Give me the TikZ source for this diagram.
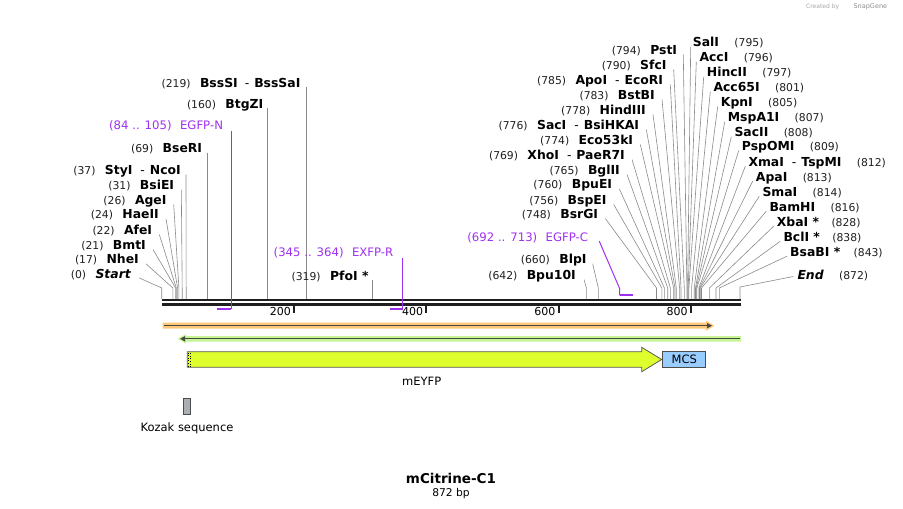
\documentclass[tikz,border=0pt]{standalone}
\usepackage{fontspec}
\setmainfont{DejaVu Sans}
\usetikzlibrary{positioning,arrows.meta}
\definecolor{primerpurple}{RGB}{158,48,240}
\definecolor{sitegray}{RGB}{138,138,138}
\definecolor{orforange}{RGB}{255,200,120}
\definecolor{orfgreen}{RGB}{198,245,148}
\definecolor{featyellow}{RGB}{222,255,45}
\definecolor{mcsblue}{RGB}{153,204,255}
\definecolor{kozakgray}{RGB}{170,174,181}
\begin{document}
\begin{tikzpicture}[x=1pt,y=-1pt,
  every node/.style={inner sep=0pt,font=\fontsize{11.5}{13}\selectfont},
  num/.style={font=\fontsize{10.8}{12}\selectfont,text=black!88},
  enz/.style={font=\fontsize{12.4}{14}\selectfont\bfseries},
  prm/.style={font=\fontsize{11.7}{13}\selectfont,text=primerpurple},
  site/.style={draw=sitegray,line width=.6pt},
  prmline/.style={draw=primerpurple,line width=1pt},
  tick/.style={line width=1.8pt,black!88}]
\useasboundingbox (0,0) rectangle (903,509);
% watermark
\node[font=\fontsize{6}{7}\selectfont,text=black!35,anchor=west] (made) at (806,7) {Created by};
\node[font=\fontsize{6.5}{7}\selectfont,text=black!45,right=14pt of made] (sg) {SnapGene};
% backbone and ruler
\coordinate (bb) at (0,299);
\draw[line width=2.3pt,black!88] (162,300.2) -- (741,300.2);
\draw[line width=3pt,black!88] (162,304.2) -- (741,304.2);
\draw[tick] (294.0,305.5) -- (294.0,312.5);
\node[font=\fontsize{11}{12}\selectfont,anchor=east] (t200) at (291.0,311.7) {200};
\draw[tick] (426.3,305.5) -- (426.3,312.5);
\node[font=\fontsize{11}{12}\selectfont,anchor=east] (t400) at (423.3,311.7) {400};
\draw[tick] (558.6,305.5) -- (558.6,312.5);
\node[font=\fontsize{11}{12}\selectfont,anchor=east] (t600) at (555.6,311.7) {600};
\draw[tick] (690.9,305.5) -- (690.9,312.5);
\node[font=\fontsize{11}{12}\selectfont,anchor=east] (t800) at (687.9,311.7) {800};
% sites, left cluster
\coordinate (s0) at (161.7,288);
\node[enz,anchor=base east] (start) at (131,278.8) {\itshape Start};
\node[num,base left=9pt of start] (startN) {(0)};
\draw[site] ([xshift=8pt,yshift=1pt]start.base east) -- (s0) -- (s0 |- bb);
\coordinate (s17) at (172.9,288);
\node[enz,anchor=base east] (nhe) at (139,263.8) {NheI};
\node[num,base left=9pt of nhe] (nheN) {(17)};
\draw[site] ([xshift=7pt]nhe.base east) -- (s17) -- (s17 |- bb);
\coordinate (s21) at (175.6,288);
\node[enz,anchor=base east] (bmt) at (146,249.5) {BmtI};
\node[num,base left=9pt of bmt] (bmtN) {(21)};
\draw[site] ([xshift=7pt]bmt.base east) -- (s21) -- (s21 |- bb);
\coordinate (s22) at (176.3,288);
\node[enz,anchor=base east] (afe) at (152.3,234.5) {AfeI};
\node[num,base left=9pt of afe] (afeN) {(22)};
\draw[site] ([xshift=7pt]afe.base east) -- (s22) -- (s22 |- bb);
\coordinate (s24) at (177.6,288);
\node[enz,anchor=base east] (hae) at (159,218.8) {HaeII};
\node[num,base left=9pt of hae] (haeN) {(24)};
\draw[site] ([xshift=7pt]hae.base east) -- (s24) -- (s24 |- bb);
\coordinate (s26) at (178.9,288);
\node[enz,anchor=base east] (age) at (166.7,204.5) {AgeI};
\node[num,base left=9pt of age] (ageN) {(26)};
\draw[site] ([xshift=7pt]age.base east) -- (s26) -- (s26 |- bb);
\coordinate (s31) at (182.2,288);
\node[enz,anchor=base east] (bsie) at (174.3,189.5) {BsiEI};
\node[num,base left=9pt of bsie] (bsieN) {(31)};
\draw[site] ([xshift=7pt]bsie.base east) -- (s31) -- (s31 |- bb);
\coordinate (s37) at (186.2,288);
\node[enz,anchor=base east] (sty) at (181,174.5) {StyI\hspace{8pt}{\mdseries -}\hspace{5pt}NcoI};
\node[num,base left=9pt of sty] (styN) {(37)};
\draw[site] ([xshift=5pt]sty.base east) -- (s37) -- (s37 |- bb);
% long site lines
\coordinate (s69) at (207.3,152.5);
\node[enz,anchor=base east] (bse) at ([xshift=-5pt]s69) {BseRI};
\node[num,base left=9pt of bse] (bseN) {(69)};
\draw[site] (s69) -- (s69 |- bb);
\coordinate (s160) at (267.5,108);
\node[enz,anchor=base east] (btg) at ([xshift=-4pt]s160) {BtgZI};
\node[num,base left=9pt of btg] (btgN) {(160)};
\draw[site] (s160) -- (s160 |- bb);
\coordinate (s219) at (306.6,87);
\node[enz,anchor=base east] (bss) at ([xshift=-6pt]s219) {BssSI\hspace{7pt}{\mdseries -}\hspace{5pt}BssSaI};
\node[num,base left=9pt of bss] (bssN) {(219)};
\draw[site] (s219) -- (s219 |- bb);
\coordinate (s319) at (372.7,280);
\node[enz,anchor=base east] (pfo) at ([xshift=-4pt]s319) {PfoI *};
\node[num,base left=9pt of pfo] (pfoN) {(319)};
\draw[site] (s319) -- (s319 |- bb);
% primers
\coordinate (p84) at (217.3,309);
\coordinate (p105) at (231.2,309);
\coordinate (pN) at (231.2,131);
\draw[prmline,line width=1.8pt] (p84) -- (p105);
\draw[prmline] (p105) -- (pN);
\node[prm,anchor=base east] (egfpN) at ([xshift=-8pt,yshift=2pt]pN) {EGFP-N};
\node[prm,base left=8pt of egfpN] (egfpNn) {(84 .. 105)};
\coordinate (p345) at (389.9,309);
\coordinate (p364) at (402.5,309);
\coordinate (pR) at (402.5,258.3);
\draw[prmline,line width=1.8pt] (p345) -- (p364);
\draw[prmline] (p364) -- (pR);
\node[prm,anchor=base east] (exfpR) at ([xshift=-9pt,yshift=2pt]pR) {EXFP-R};
\node[prm,base left=8pt of exfpR] (exfpRn) {(345 .. 364)};
\coordinate (p692) at (619.5,295.3);
\coordinate (p713) at (633.4,295.3);
\coordinate (pC) at (619.5,288.3);
\draw[prmline,line width=1.8pt] (p692) -- (p713);
\node[prm,anchor=base east] (egfpC) at (588.3,241.2) {EGFP-C};
\node[prm,base left=8pt of egfpC] (egfpCn) {(692 .. 713)};
\draw[prmline] (p692) -- (pC) -- ([xshift=11pt]egfpC.base east);
% sites, right cluster (labels on the left)
\coordinate (s642) at (586.4,288);
\node[enz,anchor=base east] (bpu) at (576,279.5) {Bpu10I};
\node[num,base left=9pt of bpu] (bpuN) {(642)};
\draw[site] ([xshift=8pt]bpu.base east) -- (s642) -- (s642 |- bb);
\coordinate (s660) at (598.3,288);
\node[enz,anchor=base east] (blp) at (586.7,263.8) {BlpI};
\node[num,base left=9pt of blp] (blpN) {(660)};
\draw[site] ([xshift=6pt]blp.base east) -- (s660) -- (s660 |- bb);
\coordinate (s748) at (656.5,288);
\node[enz,anchor=base east] (bsrg) at (598.3,218.5) {BsrGI};
\node[num,base left=9pt of bsrg] (bsrgN) {(748)};
\draw[site] ([xshift=7pt]bsrg.base east) -- (s748) -- (s748 |- bb);
\coordinate (s756) at (661.8,288);
\node[enz,anchor=base east] (bspe) at (606.7,204.5) {BspEI};
\node[num,base left=9pt of bspe] (bspeN) {(756)};
\draw[site] ([xshift=7pt]bspe.base east) -- (s756) -- (s756 |- bb);
\coordinate (s760) at (664.4,288);
\node[enz,anchor=base east] (bpue) at (612.3,188.8) {BpuEI};
\node[num,base left=9pt of bpue] (bpueN) {(760)};
\draw[site] ([xshift=7pt]bpue.base east) -- (s760) -- (s760 |- bb);
\coordinate (s765) at (667.7,288);
\node[enz,anchor=base east] (bgl) at (620,174.5) {BglII};
\node[num,base left=9pt of bgl] (bglN) {(765)};
\draw[site] ([xshift=7pt]bgl.base east) -- (s765) -- (s765 |- bb);
\coordinate (s769) at (670.4,288);
\node[enz,anchor=base east] (xho) at (625,159.5) {XhoI\hspace{8pt}{\mdseries -}\hspace{5pt}PaeR7I};
\node[num,base left=9pt of xho] (xhoN) {(769)};
\draw[site] ([xshift=7pt]xho.base east) -- (s769) -- (s769 |- bb);
\coordinate (s774) at (673.7,288);
\node[enz,anchor=base east] (eco53) at (633.3,144.5) {Eco53kI};
\node[num,base left=9pt of eco53] (eco53N) {(774)};
\draw[site] ([xshift=7pt]eco53.base east) -- (s774) -- (s774 |- bb);
\coordinate (s776) at (675.0,288);
\node[enz,anchor=base east] (sac) at (639.3,129.5) {SacI\hspace{8pt}{\mdseries -}\hspace{5pt}BsiHKAI};
\node[num,base left=9pt of sac] (sacN) {(776)};
\draw[site] ([xshift=7pt]sac.base east) -- (s776) -- (s776 |- bb);
\coordinate (s778) at (676.3,288);
\node[enz,anchor=base east] (hind) at (646,114.5) {HindIII};
\node[num,base left=9pt of hind] (hindN) {(778)};
\draw[site] ([xshift=7pt]hind.base east) -- (s778) -- (s778 |- bb);
\coordinate (s783) at (679.6,288);
\node[enz,anchor=base east] (bstb) at (655,99.5) {BstBI};
\node[num,base left=9pt of bstb] (bstbN) {(783)};
\draw[site] ([xshift=7pt]bstb.base east) -- (s783) -- (s783 |- bb);
\coordinate (s785) at (681.0,288);
\node[enz,anchor=base east] (apo) at (663.3,84.5) {ApoI\hspace{8pt}{\mdseries -}\hspace{5pt}EcoRI};
\node[num,base left=9pt of apo] (apoN) {(785)};
\draw[site] ([xshift=7pt]apo.base east) -- (s785) -- (s785 |- bb);
\coordinate (s790) at (684.3,288);
\node[enz,anchor=base east] (sfc) at (666.7,69.5) {SfcI};
\node[num,base left=9pt of sfc] (sfcN) {(790)};
\draw[site] ([xshift=7pt]sfc.base east) -- (s790) -- (s790 |- bb);
\coordinate (s794) at (686.9,288);
\node[enz,anchor=base east] (pst) at (677.3,54.5) {PstI};
\node[num,base left=9pt of pst] (pstN) {(794)};
\draw[site] ([xshift=6pt]pst.base east) -- (s794) -- (s794 |- bb);
% sites, right cluster (labels on the right)
\coordinate (s795) at (687.6,288);
\node[enz,anchor=base west] (sal) at (692.7,46.8) {SalI};
\node[num,base right=15pt of sal] (salN) {(795)};
\draw[site] ([xshift=-2pt]sal.base west) -- (s795) -- (s795 |- bb);
\coordinate (s796) at (688.2,288);
\node[enz,anchor=base west] (acc) at (699.3,61.8) {AccI};
\node[num,base right=15pt of acc] (accN) {(796)};
\draw[site] ([xshift=-3pt]acc.base west) -- (s796) -- (s796 |- bb);
\coordinate (s797) at (688.9,288);
\node[enz,anchor=base west] (hinc) at (706.7,76.8) {HincII};
\node[num,base right=15pt of hinc] (hincN) {(797)};
\draw[site] ([xshift=-3pt]hinc.base west) -- (s797) -- (s797 |- bb);
\coordinate (s801) at (691.6,288);
\node[enz,anchor=base west] (acc65) at (713.3,91.8) {Acc65I};
\node[num,base right=15pt of acc65] (acc65N) {(801)};
\draw[site] ([xshift=-3pt]acc65.base west) -- (s801) -- (s801 |- bb);
\coordinate (s805) at (694.2,288);
\node[enz,anchor=base west] (kpn) at (720.7,106.5) {KpnI};
\node[num,base right=15pt of kpn] (kpnN) {(805)};
\draw[site] ([xshift=-3pt]kpn.base west) -- (s805) -- (s805 |- bb);
\coordinate (s807) at (695.5,288);
\node[enz,anchor=base west] (mspa) at (727.7,121.8) {MspA1I};
\node[num,base right=15pt of mspa] (mspaN) {(807)};
\draw[site] ([xshift=-3pt]mspa.base west) -- (s807) -- (s807 |- bb);
\coordinate (s808) at (696.2,288);
\node[enz,anchor=base west] (sac2) at (734.3,136.8) {SacII};
\node[num,base right=15pt of sac2] (sac2N) {(808)};
\draw[site] ([xshift=-3pt]sac2.base west) -- (s808) -- (s808 |- bb);
\coordinate (s809) at (696.9,288);
\node[enz,anchor=base west] (pspo) at (741.7,150.5) {PspOMI};
\node[num,base right=15pt of pspo] (pspoN) {(809)};
\draw[site] ([xshift=-3pt]pspo.base west) -- (s809) -- (s809 |- bb);
\coordinate (s812) at (698.8,288);
\node[enz,anchor=base west] (xma) at (748.3,166.2) {XmaI\hspace{8pt}{\mdseries -}\hspace{5pt}TspMI};
\node[num,base right=15pt of xma] (xmaN) {(812)};
\draw[site] ([xshift=-3pt]xma.base west) -- (s812) -- (s812 |- bb);
\coordinate (s813) at (699.5,288);
\node[enz,anchor=base west] (apa) at (755.7,181.2) {ApaI};
\node[num,base right=15pt of apa] (apaN) {(813)};
\draw[site] ([xshift=-3pt]apa.base west) -- (s813) -- (s813 |- bb);
\coordinate (s814) at (700.2,288);
\node[enz,anchor=base west] (sma) at (762.3,196.2) {SmaI};
\node[num,base right=15pt of sma] (smaN) {(814)};
\draw[site] ([xshift=-3pt]sma.base west) -- (s814) -- (s814 |- bb);
\coordinate (s816) at (701.5,288);
\node[enz,anchor=base west] (bam) at (769.3,211.2) {BamHI};
\node[num,base right=15pt of bam] (bamN) {(816)};
\draw[site] ([xshift=-3pt]bam.base west) -- (s816) -- (s816 |- bb);
\coordinate (s828) at (709.4,288);
\node[enz,anchor=base west] (xba) at (776.7,226.2) {XbaI *};
\node[num,base right=12pt of xba] (xbaN) {(828)};
\draw[site] ([xshift=-3pt]xba.base west) -- (s828) -- (s828 |- bb);
\coordinate (s838) at (716.0,288);
\node[enz,anchor=base west] (bcl) at (783.3,241.2) {BclI *};
\node[num,base right=12pt of bcl] (bclN) {(838)};
\draw[site] ([xshift=-3pt]bcl.base west) -- (s838) -- (s838 |- bb);
\coordinate (s843) at (719.3,288);
\node[enz,anchor=base west] (bsab) at (790,256.2) {BsaBI *};
\node[num,base right=13pt of bsab] (bsabN) {(843)};
\draw[site] ([xshift=-3pt]bsab.base west) -- (s843) -- (s843 |- bb);
\coordinate (s872) at (740,287);
\node[enz,anchor=base west] (fin) at (797.3,279.5) {\itshape End};
\node[num,base right=15pt of fin] (finN) {(872)};
\draw[site] ([xshift=-4pt,yshift=3pt]fin.base west) -- (s872) -- (s872 |- bb);
% open reading frames
\fill[orforange] (162.7,322.7) -- (706,322.7) -- (706,320.7) -- (714.5,325.7) -- (706,330.7) -- (706,328.7) -- (162.7,328.7) -- cycle;
\draw[line width=1.3pt,black!72,-{Triangle[length=5pt,width=5pt]}] (164,325.7) -- (712,325.7);
\fill[orfgreen] (741,336) -- (186,336) -- (186,334) -- (177.5,338.8) -- (186,343.6) -- (186,341.7) -- (741,341.7) -- cycle;
\draw[line width=1.3pt,black!72,-{Triangle[length=5pt,width=5pt]}] (739.5,338.8) -- (180,338.8);
% features
\draw[fill=featyellow,draw=black!65,line width=.8pt] (187.3,351.7) -- (641.7,351.7) -- (641.7,347.3) -- (661.7,359.5) -- (641.7,371.7) -- (641.7,367.3) -- (187.3,367.3) -- cycle;
\draw[dotted,line width=.6pt] (188.6,352.6) -- (188.6,366.6);
\draw[dotted,line width=.6pt] (190.4,353.2) -- (190.4,366.6);
\node (eyfp) at (421.7,381.7) {mEYFP};
\node[draw=black!70,fill=mcsblue,line width=.8pt,minimum width=43pt,minimum height=15.6pt] (mcs) at (684.2,359.5) {MCS};
\node[draw=black!70,fill=kozakgray,line width=.8pt,minimum width=7.4pt,minimum height=15.7pt] (kozak) at (187,406.2) {};
\node[below=8pt of kozak] (kozakL) {Kozak sequence};
% title
\node[font=\fontsize{13.5}{15}\selectfont\bfseries] (title) at (451,478.3) {mCitrine-C1};
\node[font=\fontsize{10.7}{12}\selectfont] (len) at (451,493.3) {872 bp};
\end{tikzpicture}
\end{document}
